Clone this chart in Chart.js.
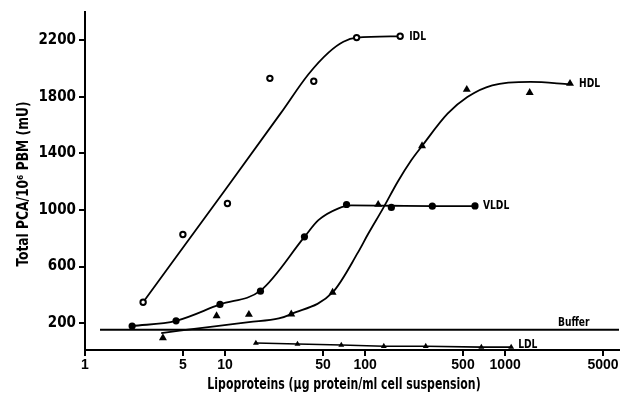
<!DOCTYPE html>
<html lang="en">
<head>
<meta charset="UTF-8">
<title>Total PCA vs lipoproteins</title>
<style>
  body { margin: 0; background: #ffffff; }
  #wrap { width: 625px; height: 396px; position: relative; }
</style>
</head>
<body>
<div id="wrap"><canvas id="myChart"></canvas></div>

<script src="https://cdn.jsdelivr.net/npm/chart.js@4"></script>
<script>
// tick labels
const xTicks = [1, 5, 10, 50, 100, 500, 1000, 5000];
const yTicks = [200, 600, 1000, 1400, 1800, 2200];
const xTitle = 'Lipoproteins (\u03bcg protein/ml cell suspension)';
const yTitle = 'Total PCA/10\u2076 PBM (mU)';

const idlX = [2.6, 5, 10.4, 20.9, 43, 87, 178];
const idlY = [348, 827, 1046, 1931, 1910, 2219, 2228];
const vldlX = [2.17, 4.47, 9.2, 17.9, 36.9, 73.7, 154, 302, 609];
const vldlY = [179, 216, 332, 426, 810, 1039, 1018, 1027, 1029];
const hdlX = [3.6, 8.7, 14.8, 29.7, 58.6, 124, 255, 532, 1497, 2905];
const hdlY = [96, 251, 261, 264, 417, 1039, 1453, 1852, 1830, 1894];
const ldlX = [16.6, 32.9, 67.6, 136, 271, 676, 1104];
const ldlY = [59, 52, 45, 37, 37, 30, 30];
const bufferX = [1.28, 6500];
const bufferY = [154, 154];

// hand drawn fitted curves
const idlCurveX = [2.6, 10.1, 25, 39.4, 55, 70, 87, 178];
const idlCurveY = [348, 1147, 1685, 1960, 2115, 2190, 2219, 2228];
const vldlCurveX = [2.17, 4.47, 9.2, 17.9, 36.9, 46.4, 64, 80, 154, 302, 609];
const vldlCurveY = [179, 216, 332, 430, 810, 928, 1010, 1032, 1030, 1028, 1027];
const hdlCurveX = [3.5, 8.7, 14.8, 24.2, 29.7, 58.6, 89, 105, 134, 171, 213, 255, 388, 537, 809, 1520, 2905];
const hdlCurveY = [130, 179, 207, 233, 264, 417, 700, 830, 1010, 1200, 1350, 1453, 1681, 1799, 1882, 1906, 1889];

function pts(xs, ys) {
    return xs.map((x, i) => ({ x: x, y: ys[i] }));
}

const FONT = "'DejaVu Sans Condensed', 'DejaVu Sans', sans-serif";
Chart.defaults.color = '#000';
Chart.defaults.font.family = FONT;

function curve(data) {
    return {
        data: data, showLine: true, pointRadius: 0, borderColor: '#000',
        borderWidth: 1.8, cubicInterpolationMode: 'monotone', fill: false, order: 2
    };
}

// narrow text like the typeset original
function narrowText(ctx, text, x, y, sx, align, rot) {
    ctx.save();
    ctx.translate(x, y);
    if (rot) ctx.rotate(rot);
    ctx.scale(sx, 1);
    ctx.textAlign = align;
    ctx.fillText(text, 0, 0);
    ctx.restore();
}

// axis titles and series names
const textLayer = {
    id: 'textLayer',
    afterDraw(chart) {
        const xs = chart.scales.x, ys = chart.scales.y, ctx = chart.ctx, ca = chart.chartArea;
        ctx.save();
        ctx.fillStyle = '#000';
        ctx.textBaseline = 'middle';

        ctx.font = 'bold 15px ' + FONT;
        narrowText(ctx, xTitle, (ca.left + ca.right) / 2 - 8, chart.height - 11, 0.81, 'center', 0);
        narrowText(ctx, yTitle, 24, (ca.top + ca.bottom) / 2 + 3, 0.91, 'center', -Math.PI / 2);

        const items = [
            { text: 'IDL', x: idlX[idlX.length - 1], y: idlY[idlY.length - 1], dx: 9, dy: 0, align: 'left' },
            { text: 'VLDL', x: vldlX[vldlX.length - 1], y: vldlY[vldlY.length - 1], dx: 8, dy: 0, align: 'left' },
            { text: 'HDL', x: hdlX[hdlX.length - 1], y: hdlY[hdlY.length - 1], dx: 9, dy: 0, align: 'left' },
            { text: 'LDL', x: ldlX[ldlX.length - 1], y: ldlY[ldlY.length - 1], dx: 7, dy: -3, align: 'left' },
            { text: 'Buffer', x: 4000, y: bufferY[0], dx: 0, dy: -7, align: 'right' }
        ];
        ctx.font = 'bold 13px ' + FONT;
        items.forEach(it => {
            narrowText(ctx, it.text, xs.getPixelForValue(it.x) + it.dx, ys.getPixelForValue(it.y) + it.dy, 0.78, it.align, 0);
        });
        ctx.restore();
    }
};

const ctx = document.getElementById('myChart').getContext('2d');
new Chart(ctx, {
    type: 'scatter',
    data: {
        datasets: [
            { data: pts(idlX, idlY), pointStyle: 'circle', pointRadius: 2.7, pointBorderWidth: 2,
              pointBackgroundColor: '#fff', pointBorderColor: '#000', showLine: false, order: 0 },
            { data: pts(vldlX, vldlY), pointStyle: 'circle', pointRadius: 3.6, pointBorderWidth: 0,
              pointBackgroundColor: '#000', showLine: false, order: 0 },
            { data: pts(hdlX, hdlY), pointStyle: 'triangle', pointRadius: 4.6, pointBorderWidth: 0,
              pointBackgroundColor: '#000', showLine: false, order: 0 },
            { data: pts(ldlX, ldlY), pointStyle: 'triangle', pointRadius: 3.4, pointBorderWidth: 0,
              pointBackgroundColor: '#000', borderColor: '#000', borderWidth: 1.6, showLine: true, order: 1 },
            { data: pts(bufferX, bufferY), pointRadius: 0, borderColor: '#000', borderWidth: 2,
              showLine: true, order: 2 },
            curve(pts(idlCurveX, idlCurveY)),
            curve(pts(vldlCurveX, vldlCurveY)),
            curve(pts(hdlCurveX, hdlCurveY))
        ]
    },
    options: {
        responsive: true,
        maintainAspectRatio: false,
        animation: false,
        layout: { padding: { top: 12, right: 2, left: 0, bottom: 0 } },
        plugins: {
            legend: { display: false },
            tooltip: { enabled: false }
        },
        scales: {
            x: {
                type: 'logarithmic',
                min: 1,
                max: 6500,
                afterBuildTicks: s => { s.ticks = xTicks.map(v => ({ value: v })); },
                afterFit: s => { s.height = 46; },
                ticks: {
                    callback: v => String(v),
                    maxRotation: 0,
                    autoSkip: false,
                    padding: 1,
                    font: { family: "'Liberation Sans', sans-serif", size: 14, weight: 'bold' }
                },
                grid: { drawOnChartArea: false, tickLength: 6, color: '#000', lineWidth: 2 },
                border: { color: '#000', width: 2 },
                title: { display: false }
            },
            y: {
                type: 'linear',
                min: 10,
                max: 2400,
                afterBuildTicks: s => { s.ticks = yTicks.map(v => ({ value: v })); },
                afterFit: s => { s.width = 85; },
                ticks: {
                    callback: v => String(v),
                    padding: 3,
                    font: { family: FONT, size: 15, weight: 'bold' }
                },
                grid: { drawOnChartArea: false, tickLength: 6, color: '#000', lineWidth: 2 },
                border: { color: '#000', width: 2 },
                title: { display: false }
            }
        }
    },
    plugins: [textLayer]
});
</script>
</body>
</html>
